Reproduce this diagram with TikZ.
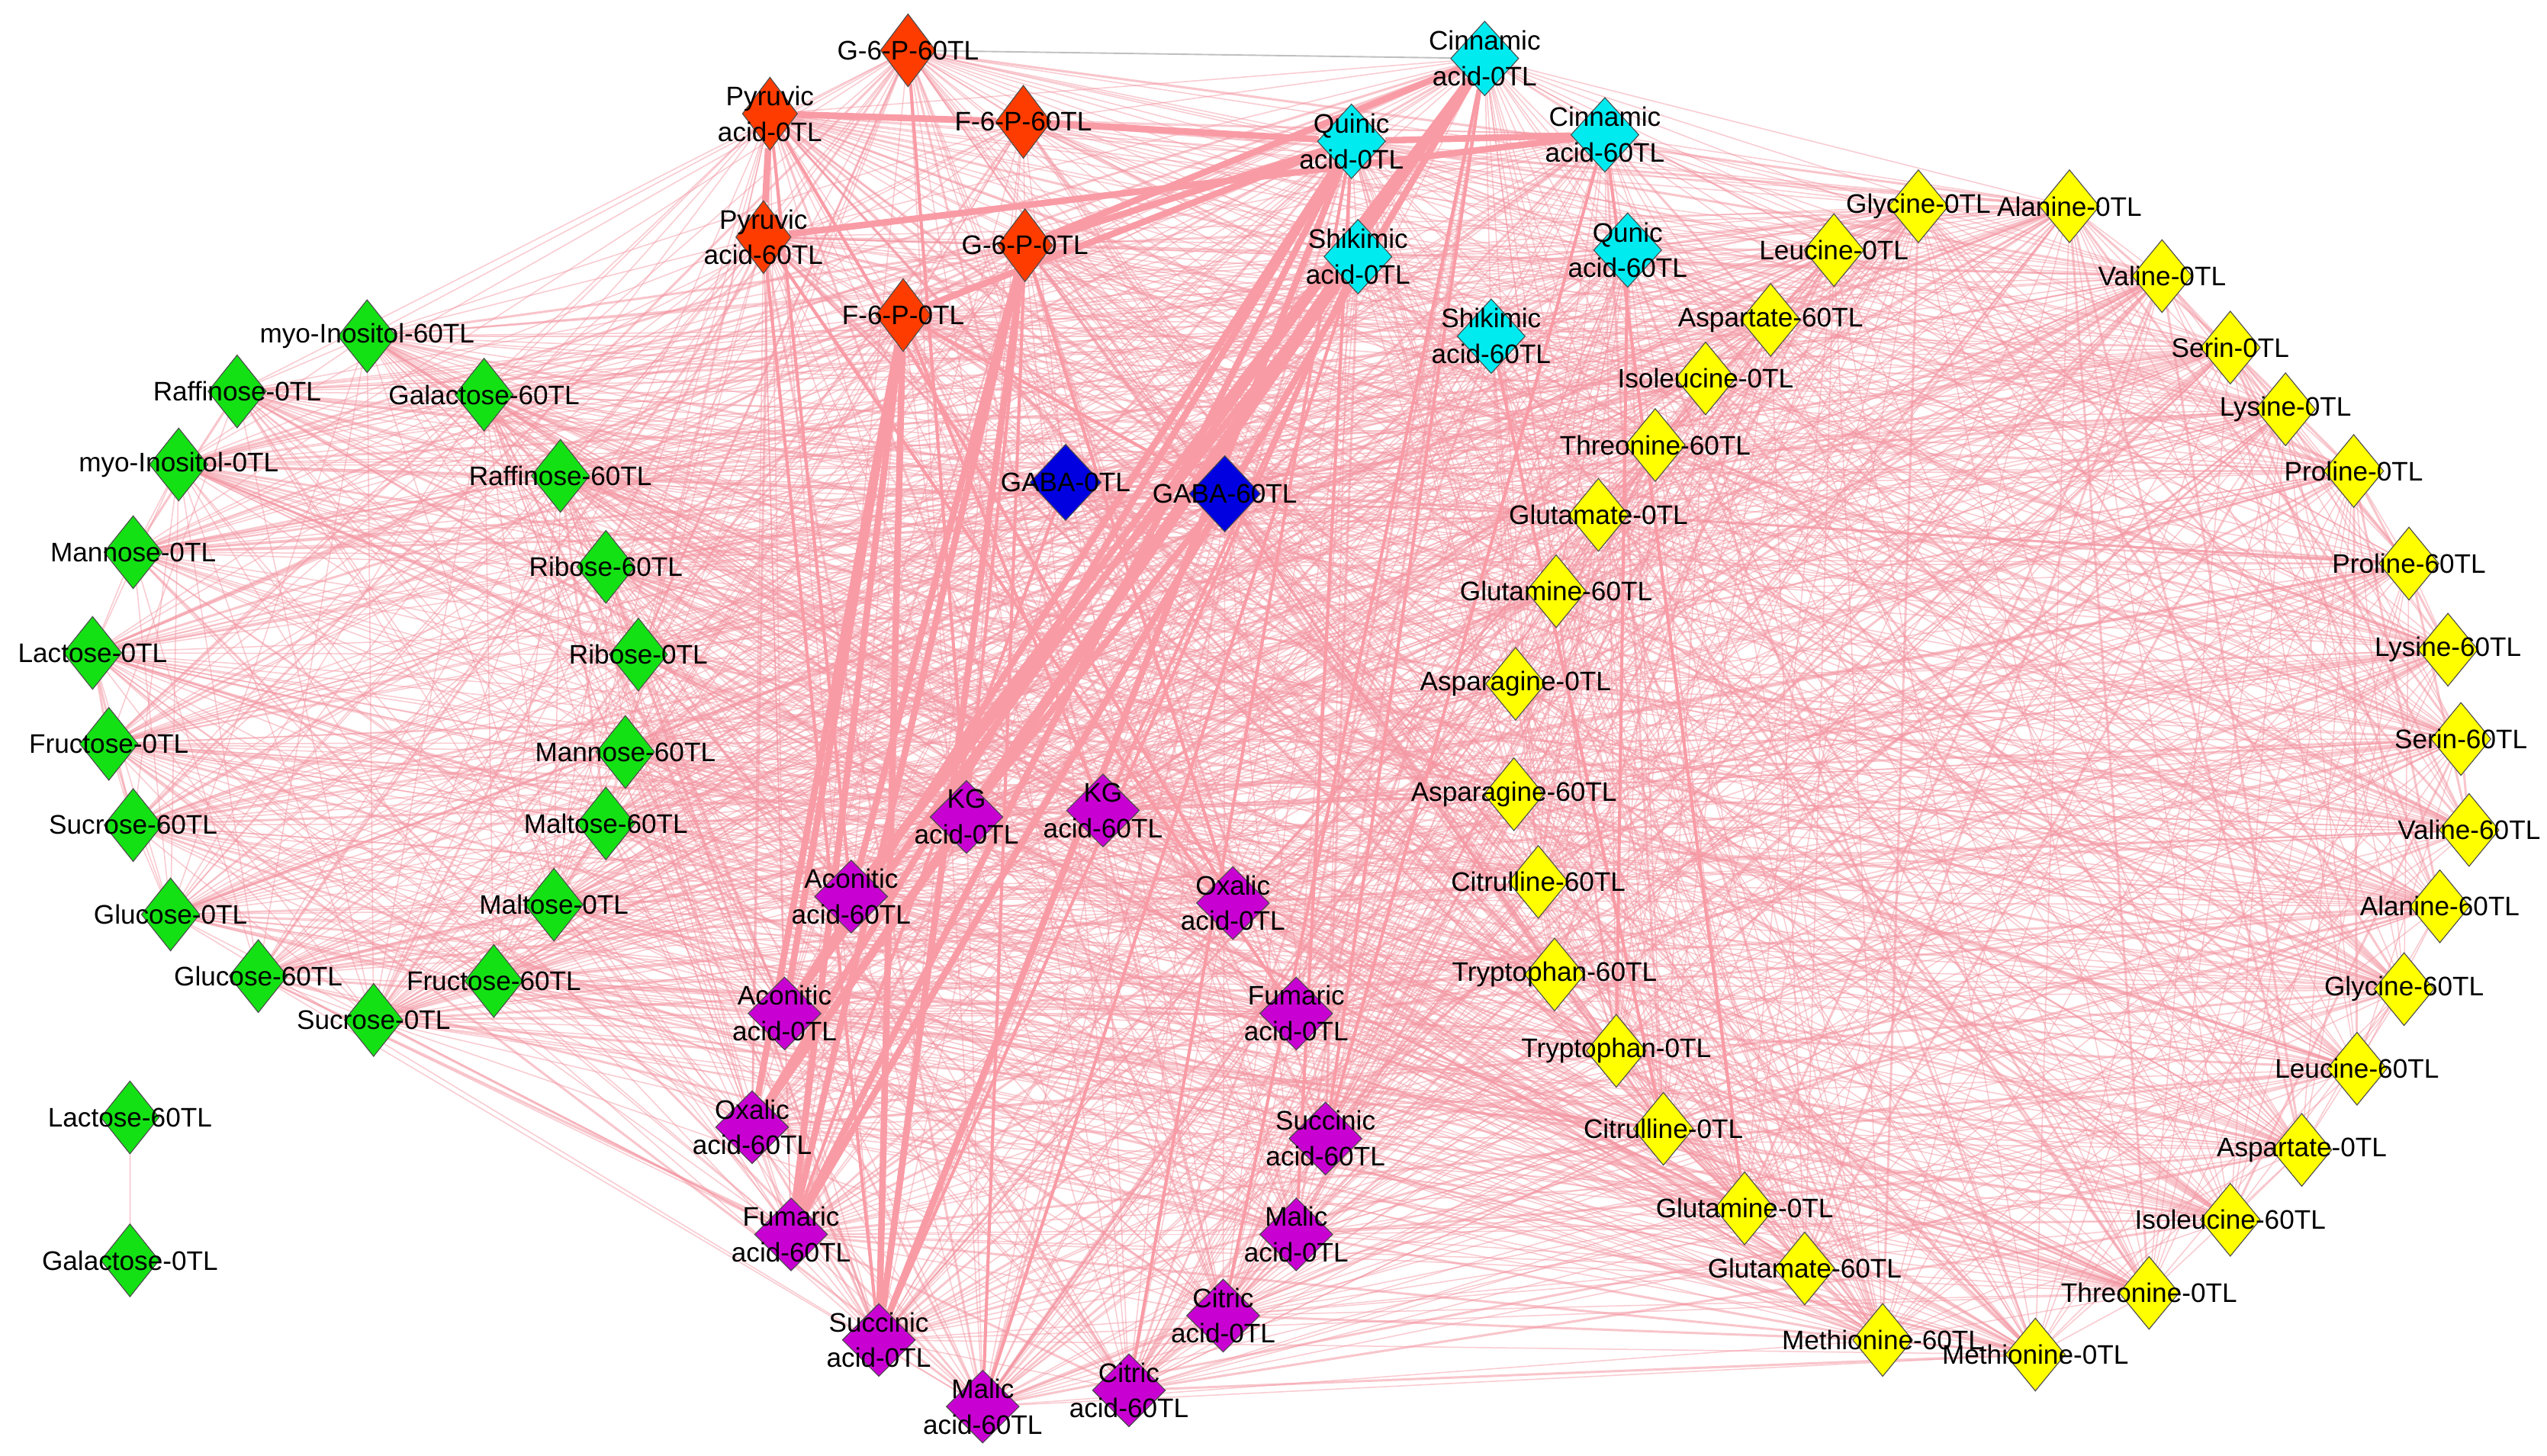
\documentclass[tikz,border=0pt]{standalone}
\usepackage{fontspec}
\setmainfont{Liberation Sans}
\usetikzlibrary{shapes.geometric,backgrounds}
\definecolor{cgreen}{RGB}{20,225,20}
\definecolor{cred}{RGB}{255,60,0}
\definecolor{ccyan}{RGB}{0,235,240}
\definecolor{cblue}{RGB}{0,0,225}
\definecolor{cpurple}{RGB}{200,0,210}
\definecolor{cyellow}{RGB}{255,255,0}
\definecolor{epink}{RGB}{244,150,162}
\definecolor{ethick}{RGB}{249,155,165}
\tikzset{
  dia/.style={shape=diamond, inner sep=0pt, draw=black!70, line width=0.3pt},
  gnode/.style={dia, fill=cgreen, minimum width=0.72cm, minimum height=0.9cm},
  rnode/.style={dia, fill=cred, minimum width=0.68cm, minimum height=0.9cm},
  cnode/.style={dia, fill=ccyan, minimum width=0.84cm, minimum height=0.92cm},
  bnode/.style={dia, fill=cblue, minimum width=0.88cm, minimum height=0.94cm},
  pnode/.style={dia, fill=cpurple, minimum width=0.9cm, minimum height=0.9cm},
  ynode/.style={dia, fill=cyellow, minimum width=0.74cm, minimum height=0.9cm},
  lab/.style={inner sep=0pt, align=center, text=black, font=\fontsize{9.4}{12.5}\selectfont},
  thinedge/.style={draw=epink, line width=0.4pt, opacity=0.5},
  midedge/.style={draw=epink, line width=0.8pt, opacity=0.55},
  medge/.style={draw=ethick, line width=1.1pt},
  thickedge/.style={draw=ethick, line width=2.3pt},
}
\begin{document}
\begin{tikzpicture}[x=0.02cm,y=-0.02cm]
\useasboundingbox (0,0) rectangle (1568,896);
\def\mainlist{G6P60,PyrA0,F6P60,PyrA60,G6P0,F6P0,CinA0,QuinA0,CinA60,ShiA0,QunA60,ShiA60,GABA0,GABA60,KGA0,KGA60,AcoA60,OxaA0,AcoA0,FumA0,OxaA60,SucA60,FumA60,MalA0,CitA0,SucA0,CitA60,MalA60,MyoI60,Raf0,Gal60,MyoI0,Raf60,Man0,Rib60,Lac0,Rib0,Fru0,Man60,Suc60,Mal60,Glc0,Mal0,Glc60,Fru60,Suc0,Gly0,Ala0,Leu0,Val0,Asp60,Ser0,Ile0,Lys0,Thr60,Pro0,Glu0,Pro60,Gln60,Lys60,Asn0,Ser60,Asn60,Val60,Citr60,Ala60,Trp60,Gly60,Trp0,Leu60,Citr0,Asp0,Gln0,Ile60,Glu60,Thr0,Met60,Met0}
% nodes
\foreach \id/\x/\y/\s in {
G6P60/559/31/rnode, PyrA0/474/70/rnode, F6P60/630/75/rnode, PyrA60/470/146/rnode, G6P0/631/151/rnode, F6P0/556/194/rnode,
CinA0/914/36/cnode, QuinA0/832/87/cnode, CinA60/988/83/cnode, ShiA0/836/158/cnode, QunA60/1002/154/cnode, ShiA60/918/207/cnode,
GABA0/656/297/bnode, GABA60/754/304/bnode,
KGA0/595/503/pnode, KGA60/679/499/pnode, AcoA60/524/552/pnode, OxaA0/759/556/pnode, AcoA0/483/624/pnode, FumA0/798/624/pnode, OxaA60/463/694/pnode, SucA60/816/701/pnode, FumA60/487/760/pnode, MalA0/798/760/pnode, CitA0/753/810/pnode, SucA0/541/825/pnode, CitA60/695/856/pnode, MalA60/605/866/pnode,
MyoI60/226/207/gnode, Raf0/146/241/gnode, Gal60/298/243/gnode, MyoI0/110/286/gnode, Raf60/345/293/gnode, Man0/82/340/gnode, Rib60/373/349/gnode, Lac0/57/402/gnode, Rib0/393/403/gnode, Fru0/67/458/gnode, Man60/385/463/gnode, Suc60/82/508/gnode, Mal60/373/507/gnode, Glc0/105/563/gnode, Mal0/341/557/gnode, Glc60/159/601/gnode, Fru60/304/604/gnode, Suc0/230/628/gnode, Lac60/80/688/gnode, Gal0/80/776/gnode,
Gly0/1181/127/ynode, Ala0/1274/127/ynode, Leu0/1129/154/ynode, Val0/1331/170/ynode, Asp60/1090/197/ynode, Ser0/1373/214/ynode, Ile0/1050/233/ynode, Lys0/1407/252/ynode, Thr60/1019/274/ynode, Pro0/1449/290/ynode, Glu0/984/317/ynode, Pro60/1483/347/ynode, Gln60/958/364/ynode, Lys60/1507/400/ynode, Asn0/933/421/ynode, Ser60/1515/455/ynode, Asn60/932/489/ynode, Val60/1520/511/ynode, Citr60/947/543/ynode, Ala60/1502/558/ynode, Trp60/957/600/ynode, Gly60/1480/609/ynode, Trp0/995/647/ynode, Leu60/1451/658/ynode, Citr0/1024/695/ynode, Asp0/1417/708/ynode, Gln0/1074/744/ynode, Ile60/1373/751/ynode, Glu60/1111/781/ynode, Thr0/1323/796/ynode, Met60/1159/825/ynode, Met0/1253/834/ynode}
  \node[\s] (\id) at (\x,\y) {};
% labels
\foreach \id/\t in {
G6P60/G-6-P-60TL, PyrA0/{Pyruvic\\acid-0TL}, F6P60/F-6-P-60TL, PyrA60/{Pyruvic\\acid-60TL}, G6P0/G-6-P-0TL, F6P0/F-6-P-0TL,
CinA0/{Cinnamic\\acid-0TL}, QuinA0/{Quinic\\acid-0TL}, CinA60/{Cinnamic\\acid-60TL}, ShiA0/{Shikimic\\acid-0TL}, QunA60/{Qunic\\acid-60TL}, ShiA60/{Shikimic\\acid-60TL},
GABA0/GABA-0TL, GABA60/GABA-60TL,
KGA0/{KG\\acid-0TL}, KGA60/{KG\\acid-60TL}, AcoA60/{Aconitic\\acid-60TL}, OxaA0/{Oxalic\\acid-0TL}, AcoA0/{Aconitic\\acid-0TL}, FumA0/{Fumaric\\acid-0TL}, OxaA60/{Oxalic\\acid-60TL}, SucA60/{Succinic\\acid-60TL}, FumA60/{Fumaric\\acid-60TL}, MalA0/{Malic\\acid-0TL}, CitA0/{Citric\\acid-0TL}, SucA0/{Succinic\\acid-0TL}, CitA60/{Citric\\acid-60TL}, MalA60/{Malic\\acid-60TL},
MyoI60/myo-Inositol-60TL, Raf0/Raffinose-0TL, Gal60/Galactose-60TL, MyoI0/myo-Inositol-0TL, Raf60/Raffinose-60TL, Man0/Mannose-0TL, Rib60/Ribose-60TL, Lac0/Lactose-0TL, Rib0/Ribose-0TL, Fru0/Fructose-0TL, Man60/Mannose-60TL, Suc60/Sucrose-60TL, Mal60/Maltose-60TL, Glc0/Glucose-0TL, Mal0/Maltose-0TL, Glc60/Glucose-60TL, Fru60/Fructose-60TL, Suc0/Sucrose-0TL, Lac60/Lactose-60TL, Gal0/Galactose-0TL,
Gly0/Glycine-0TL, Ala0/Alanine-0TL, Leu0/Leucine-0TL, Val0/Valine-0TL, Asp60/Aspartate-60TL, Ser0/Serin-0TL, Ile0/Isoleucine-0TL, Lys0/Lysine-0TL, Thr60/Threonine-60TL, Pro0/Proline-0TL, Glu0/Glutamate-0TL, Pro60/Proline-60TL, Gln60/Glutamine-60TL, Lys60/Lysine-60TL, Asn0/Asparagine-0TL, Ser60/Serin-60TL, Asn60/Asparagine-60TL, Val60/Valine-60TL, Citr60/Citrulline-60TL, Ala60/Alanine-60TL, Trp60/Tryptophan-60TL, Gly60/Glycine-60TL, Trp0/Tryptophan-0TL, Leu60/Leucine-60TL, Citr0/Citrulline-0TL, Asp0/Aspartate-0TL, Gln0/Glutamine-0TL, Ile60/Isoleucine-60TL, Glu60/Glutamate-60TL, Thr0/Threonine-0TL, Met60/Methionine-60TL, Met0/Methionine-0TL}
  \node[lab] (\id-l) at (\id.center) {\t};
% edges
\begin{pgfonlayer}{background}
\fill[white] (0,0) rectangle (1568,896);
\pgfmathsetseed{4242}
\foreach \a [count=\i] in \mainlist {
  \foreach \b [count=\j] in \mainlist {
    \ifnum\j>\i\relax
      \pgfmathrandominteger{\r}{1}{100}
      \ifnum\r<50\relax \draw[thinedge] (\a) -- (\b);
      \else\ifnum\r<57\relax \draw[midedge] (\a) -- (\b); \fi\fi
    \fi
  }
}
\draw[thinedge, opacity=0.8] (Lac60) -- (Gal0);
\draw[draw=black!25, line width=0.5pt] (G6P60) -- (CinA0);
\foreach \a/\b in {PyrA0/OxaA0, PyrA60/FumA0, F6P0/GABA60, CinA60/SucA60, ShiA0/MalA60, CinA0/CitA0, QuinA0/CitA60, ShiA0/SucA0, G6P0/MalA60, PyrA60/SucA0, QunA60/Trp0, ShiA60/Citr0, CinA60/Gln0, F6P0/KGA60, G6P0/OxaA0, PyrA0/AcoA60, G6P60/KGA0, QuinA0/MalA0, ShiA0/KGA60, CinA0/SucA60, GABA0/FumA60, KGA0/G6P0}
  \draw[medge] (\a) -- (\b);
\foreach \a/\b in {PyrA0/F6P60, F6P60/QuinA0, QuinA0/CinA60, PyrA60/CinA60, PyrA0/PyrA60, G6P0/QuinA0, G6P0/CinA0, F6P0/QuinA0,
  CinA0/AcoA60, CinA0/AcoA0, CinA0/OxaA60, CinA0/FumA60, CinA0/KGA0,
  QuinA0/AcoA0, QuinA0/OxaA60, QuinA0/FumA60, QuinA0/SucA0,
  ShiA0/AcoA60, ShiA0/OxaA60,
  F6P0/AcoA0, F6P0/OxaA60, F6P0/FumA60, F6P0/SucA0,
  G6P0/AcoA60, G6P0/FumA60, G6P0/SucA0, GABA60/KGA0}
  \draw[thickedge] (\a) -- (\b);
\end{pgfonlayer}
\end{tikzpicture}
\end{document}
